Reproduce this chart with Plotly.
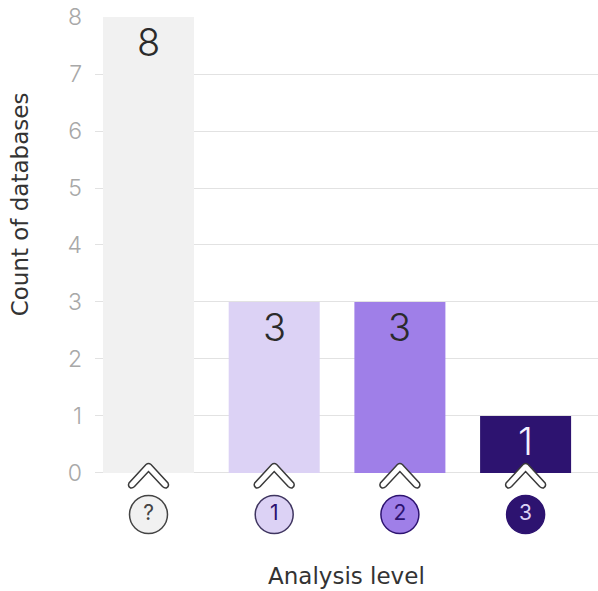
import plotly.graph_objects as go

# Databases per analysis level
levels = ["?", "1", "2", "3"]
counts = [8, 3, 3, 1]
bar_colors = ["#f1f1f1", "#dcd2f5", "#9f7fe8", "#2d1370"]
label_colors = ["#2b2b2b", "#2b2b2b", "#2b2b2b", "#f4f0ff"]
badge_text_colors = ["#444444", "#2d1370", "#2d1370", "#dcd2f5"]
badge_line_colors = ["#444444", "#3f3560", "#2d1370", "#2d1370"]
y_ticks = [0, 1, 2, 3, 4, 5, 6, 7, 8]

TITLE_FONT = "DejaVu Sans"
NUMBER_FONT = "Inter"
positions = list(range(len(levels)))

# The count axis sits above a narrow strip that carries the level badges
STRIP_TOP = 0.1331
BADGE_Y = 0.407

# Rounded chevron outline, in pixels around the anchor on the zero line
CHEVRON = (
    "M -19.5 -10 Q -21 -13 -18 -15 Q -16 -15.5 -14 -13.5 L 0 1.5 "
    "L 14 -13.5 Q 16 -15.5 18 -15 Q 21 -13 19.5 -10 L 2.5 8.5 "
    "Q 0 10.5 -2.5 8.5 Z"
)

fig = go.Figure()

fig.add_trace(go.Bar(
    x=positions,
    y=counts,
    width=0.724,
    marker=dict(color=bar_colors, line=dict(width=0)),
    hoverinfo="skip",
))

fig.add_trace(go.Scatter(
    x=positions,
    y=[BADGE_Y] * len(levels),
    yaxis="y2",
    mode="markers+text",
    marker=dict(size=38, color=bar_colors,
                line=dict(color=badge_line_colors, width=1.5)),
    text=levels,
    textposition="middle center",
    textfont=dict(family=NUMBER_FONT, size=21, color=badge_text_colors),
    hoverinfo="skip",
))

shapes = [
    dict(
        type="path",
        layer="above",
        xref="x",
        yref="paper",
        xsizemode="pixel",
        ysizemode="pixel",
        xanchor=p,
        yanchor=STRIP_TOP,
        path=CHEVRON,
        fillcolor="white",
        line=dict(color="#3a3a3a", width=1.5),
    )
    for p in positions
]

# Count labels hang just under the top of each bar
count_labels = [
    dict(
        text=str(c),
        x=p,
        y=c,
        xref="x",
        yref="y",
        xanchor="center",
        yanchor="top",
        showarrow=False,
        font=dict(family=NUMBER_FONT, size=38, weight=300, color=col),
    )
    for p, c, col in zip(positions, counts, label_colors)
]

fig.update_layout(
    width=598,
    height=591,
    margin=dict(l=95, r=0, t=17, b=48),
    paper_bgcolor="white",
    plot_bgcolor="white",
    showlegend=False,
    shapes=shapes,
    font=dict(family=TITLE_FONT),
    xaxis=dict(
        range=[-0.4256, 3.576],
        anchor="y",
        showgrid=False,
        zeroline=False,
        showticklabels=False,
        ticks="",
    ),
    yaxis=dict(
        domain=[STRIP_TOP, 1],
        range=[0, 8],
        tickvals=y_ticks,
        ticks="",
        ticklabelstandoff=12,
        tickfont=dict(family=NUMBER_FONT, size=23, weight=300, color="#a8a8a8"),
        showgrid=True,
        gridcolor="#e2e2e2",
        gridwidth=1,
        zeroline=True,
        zerolinecolor="#e2e2e2",
        zerolinewidth=1,
    ),
    yaxis2=dict(
        domain=[0, STRIP_TOP],
        range=[0, 1],
        anchor="x",
        visible=False,
        fixedrange=True,
    ),
    annotations=count_labels + [
        dict(
            text="Count of databases",
            xref="paper",
            yref="paper",
            x=-0.15,
            y=0.643,
            xanchor="center",
            yanchor="middle",
            textangle=-90,
            showarrow=False,
            font=dict(family=TITLE_FONT, size=23, color="#333333"),
        ),
        dict(
            text="Analysis level",
            xref="paper",
            yref="paper",
            x=0.5,
            y=-0.0625,
            xanchor="center",
            yanchor="middle",
            showarrow=False,
            font=dict(family=TITLE_FONT, size=23, color="#333333"),
        ),
    ],
)

fig.write_html("out.html")
